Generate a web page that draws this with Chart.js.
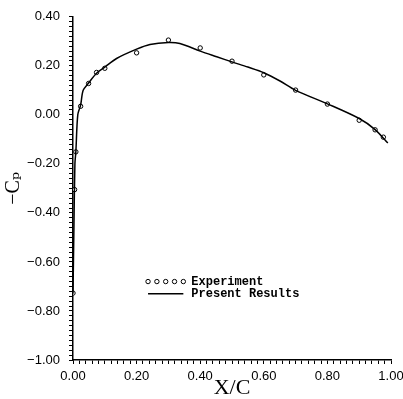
<!DOCTYPE html>
<html>
<head>
<meta charset="utf-8">
<script src="https://cdn.jsdelivr.net/npm/chart.js@4"></script>
<style>
  html, body { margin: 0; padding: 0; background: #fff; }
  #wrap { width: 403px; height: 399px; }
</style>
</head>
<body>
<div id="wrap"><canvas id="c" width="403" height="399"></canvas></div>
<script>
// Experiment (open circles)
const expX = [0.0, 0.005, 0.009, 0.024, 0.049, 0.074, 0.10, 0.20, 0.30, 0.40, 0.50, 0.60, 0.70, 0.80, 0.90, 0.95, 0.976];
const expY = [-0.727, -0.305, -0.151, 0.035, 0.128, 0.173, 0.19, 0.253, 0.305, 0.273, 0.219, 0.163, 0.101, 0.044, -0.022, -0.061, -0.091];
// Present Results (solid line)
const curveX = [0.0, 0.003, 0.006, 0.009, 0.015, 0.024, 0.032, 0.049, 0.074, 0.10, 0.137, 0.20, 0.242, 0.30, 0.336, 0.40, 0.452, 0.50, 0.55, 0.60, 0.651, 0.70, 0.80, 0.90, 0.95, 0.99];
const curveY = [-0.73, -0.45, -0.2, -0.15, 0.0, 0.04, 0.10, 0.13, 0.17, 0.195, 0.23, 0.268, 0.287, 0.295, 0.291, 0.26, 0.237, 0.216, 0.195, 0.172, 0.138, 0.10, 0.045, -0.015, -0.06, -0.115];
const seriesNames = ['Experiment', 'Present Results'];
const xTitle = 'X/C';
const yTitle = '\u2212C\u209A';

const toPts = (xs, ys) => xs.map((x, i) => ({ x: x, y: ys[i] }));
const fmt = v => {
  const major = Math.abs(v * 5 - Math.round(v * 5)) < 1e-6;
  if (!major) return '';
  const r = Math.round(v * 5) / 5;
  const s = Math.abs(r).toFixed(2);
  return (r < -1e-9 ? '\u2212' : '') + s;
};

const legendPlugin = {
  id: 'inlineLegend',
  afterDatasetsDraw(chart) {
    const ctx = chart.ctx;
    const xs = chart.scales.x, ys = chart.scales.y;
    const x0 = xs.getPixelForValue(0.236);
    const x1 = xs.getPixelForValue(0.347);
    const yA = ys.getPixelForValue(-0.68);
    const yB = ys.getPixelForValue(-0.73);
    ctx.save();
    ctx.strokeStyle = '#000';
    ctx.fillStyle = '#fff';
    ctx.lineWidth = 1;
    for (let i = 0; i < 5; i++) {
      const cx = x0 + (x1 - x0) * i / 4;
      ctx.beginPath();
      ctx.arc(cx, yA, 2.2, 0, Math.PI * 2);
      ctx.fill();
      ctx.stroke();
    }
    ctx.lineWidth = 1.4;
    ctx.beginPath();
    ctx.moveTo(x0, yB);
    ctx.lineTo(x1, yB);
    ctx.stroke();
    ctx.fillStyle = '#000';
    ctx.font = 'bold 12px "Liberation Mono", "DejaVu Sans Mono", monospace';
    ctx.textBaseline = 'middle';
    ctx.textAlign = 'left';
    ctx.fillText(seriesNames[0], x1 + 8, yA);
    ctx.fillText(seriesNames[1], x1 + 8, yB);
    ctx.restore();
  }
};

new Chart(document.getElementById('c'), {
  type: 'scatter',
  data: {
    datasets: [
      {
        label: seriesNames[1],
        data: toPts(curveX, curveY),
        showLine: true,
        borderColor: '#000',
        borderWidth: 1.5,
        pointRadius: 0,
        tension: 0.3,
        fill: false
      },
      {
        label: seriesNames[0],
        data: toPts(expX, expY),
        showLine: false,
        pointStyle: 'circle',
        pointRadius: 2.2,
        borderWidth: 1,
        borderColor: '#000',
        backgroundColor: '#fff'
      }
    ]
  },
  options: {
    responsive: false,
    animation: false,
    devicePixelRatio: 1,
    layout: { padding: { top: 13, right: 12, left: 0, bottom: 0 } },
    plugins: { legend: { display: false }, tooltip: { enabled: false } },
    scales: {
      x: {
        type: 'linear',
        min: 0, max: 1,
        afterFit: s => { s.height = 39; s.paddingRight = 0; s.paddingLeft = 0; },
        border: { display: true, color: '#000', width: 1.5 },
        grid: { drawOnChartArea: false, drawTicks: true, tickLength: 4, color: '#000', tickColor: '#000', tickWidth: 1 },
        ticks: {
          stepSize: 0.02, autoSkip: false, maxRotation: 0, minRotation: 0, padding: 5,
          color: '#000', font: { family: '"Liberation Sans", Arial, sans-serif', size: 13 },
          callback: v => fmt(v)
        },
        title: { display: true, text: xTitle, color: '#000', padding: 0,
          font: { family: '"Liberation Serif", "Times New Roman", serif', size: 22, lineHeight: 1 } }
      },
      y: {
        type: 'linear',
        min: -1, max: 0.4,
        afterFit: s => { s.width = 73; },
        border: { display: true, color: '#000', width: 1.5 },
        grid: { drawOnChartArea: false, drawTicks: true, tickLength: 4, color: '#000', tickColor: '#000', tickWidth: 1 },
        ticks: {
          stepSize: 0.02, autoSkip: false, padding: 9,
          color: '#000', font: { family: '"Liberation Sans", Arial, sans-serif', size: 13 },
          callback: v => fmt(v)
        },
        title: { display: true, text: yTitle, color: '#000', padding: { top: 4, bottom: 0 },
          font: { family: '"Liberation Serif", "DejaVu Serif", serif', size: 20, lineHeight: 1 } }
      }
    }
  },
  plugins: [legendPlugin]
});
</script>
</body>
</html>
